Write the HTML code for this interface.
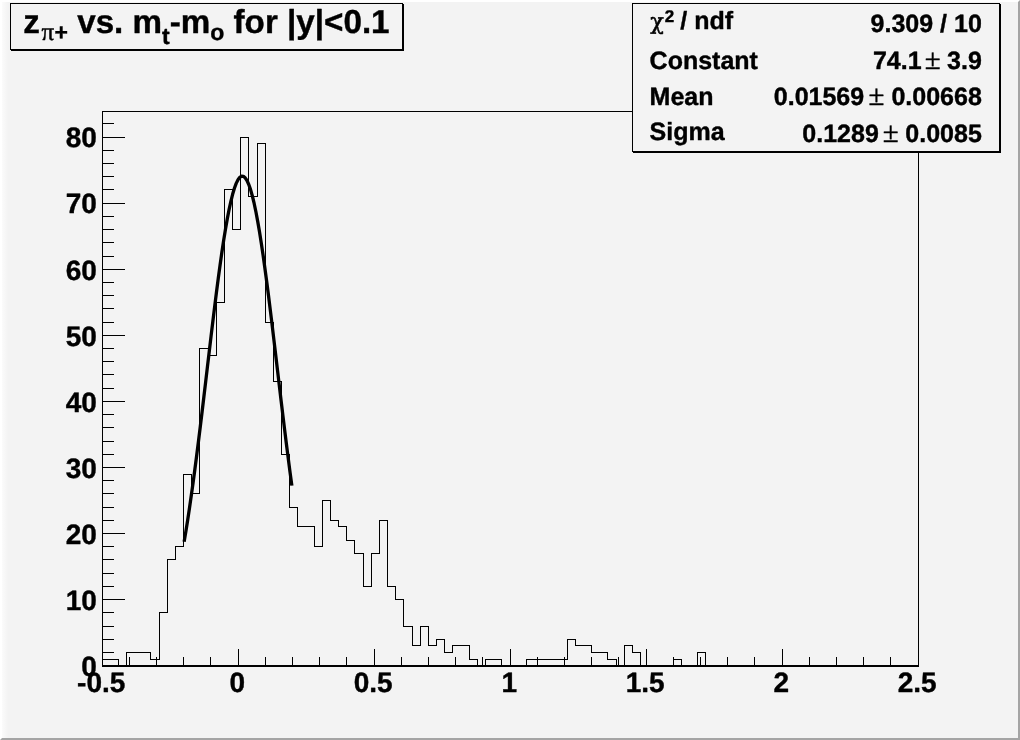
<!DOCTYPE html>
<html><head><meta charset="utf-8"><title>z pi+ vs. mt-mo for |y|&lt;0.1</title>
<style>
html,body{margin:0;padding:0;background:#f3f3f3;}
body{width:1020px;height:740px;overflow:hidden;}
svg{display:block;}
text{font-family:"Liberation Sans",sans-serif;font-weight:bold;fill:#000;stroke:#000;stroke-width:0.4px;stroke-linejoin:round;text-rendering:geometricPrecision;}
.chi{font-family:"DejaVu Serif","Liberation Serif",serif;font-weight:normal;stroke-width:0.5px;}
.sym{font-family:"Liberation Serif","DejaVu Serif",serif;font-weight:normal;stroke-width:0.45px;}
</style></head><body>
<svg width="1020" height="740" viewBox="0 0 1020 740">
<rect x="0" y="0" width="1020" height="740" fill="#f3f3f3"/>
<!-- bevel border -->
<rect x="0" y="0" width="1020" height="2" fill="#ffffff"/>
<rect x="0" y="0" width="2" height="740" fill="#ffffff"/>
<polygon points="1020,0 1020,740 0,740 2,738 1018,738 1018,2" fill="#a4a4a4"/>
<defs><linearGradient id="lg" x1="0" x2="1" y1="0" y2="0"><stop offset="0" stop-color="#fff" stop-opacity="0.7"/><stop offset="1" stop-color="#fff" stop-opacity="0"/></linearGradient></defs>
<rect x="2" y="2" width="6" height="736" fill="url(#lg)"/>
<!-- frame -->
<g shape-rendering="crispEdges" fill="none" stroke="#000" stroke-width="1">
<rect x="102.5" y="111.5" width="816" height="554"/>
<line x1="102" y1="666" x2="919" y2="666" stroke-width="2"/>
<path d="M102.5 666v-17M129.5 666v-9M156.5 666v-9M183.5 666v-9M210.5 666v-9M238.5 666v-17M265.5 666v-9M292.5 666v-9M319.5 666v-9M346.5 666v-9M374.5 666v-17M401.5 666v-9M428.5 666v-9M455.5 666v-9M482.5 666v-9M510.5 666v-17M537.5 666v-9M564.5 666v-9M591.5 666v-9M618.5 666v-9M646.5 666v-17M673.5 666v-9M700.5 666v-9M727.5 666v-9M754.5 666v-9M782.5 666v-17M809.5 666v-9M836.5 666v-9M863.5 666v-9M890.5 666v-9M918.5 666v-17M102 665.5h23M102 652.5h12M102 639.5h12M102 626.5h12M102 612.5h12M102 599.5h23M102 586.5h12M102 573.5h12M102 559.5h12M102 546.5h12M102 533.5h23M102 520.5h12M102 507.5h12M102 493.5h12M102 480.5h12M102 467.5h23M102 454.5h12M102 441.5h12M102 427.5h12M102 414.5h12M102 401.5h23M102 388.5h12M102 374.5h12M102 361.5h12M102 348.5h12M102 335.5h23M102 322.5h12M102 308.5h12M102 295.5h12M102 282.5h12M102 269.5h23M102 256.5h12M102 242.5h12M102 229.5h12M102 216.5h12M102 203.5h23M102 189.5h12M102 176.5h12M102 163.5h12M102 150.5h12M102 137.5h23M102 123.5h12"/>
<path d="M102.5 665.5V659.5H110.5V659.5H118.5V665.5H126.5V652.5H134.5V652.5H142.5V652.5H150.5V659.5H159.5V612.5H167.5V559.5H175.5V546.5H183.5V474.5H191.5V493.5H199.5V348.5H208.5V355.5H216.5V302.5H224.5V189.5H232.5V229.5H240.5V137.5H248.5V196.5H257.5V143.5H265.5V322.5H273.5V381.5H281.5V454.5H289.5V507.5H297.5V526.5H306.5V526.5H314.5V546.5H322.5V500.5H330.5V520.5H338.5V526.5H346.5V540.5H354.5V553.5H363.5V586.5H371.5V553.5H379.5V520.5H387.5V586.5H395.5V599.5H403.5V626.5H412.5V645.5H420.5V626.5H428.5V645.5H436.5V639.5H444.5V652.5H452.5V645.5H461.5V645.5H469.5V659.5H477.5V665.5H485.5V659.5H493.5V659.5H501.5V665.5H510.5V665.5H518.5V665.5H526.5V659.5H534.5V659.5H542.5V659.5H550.5V659.5H558.5V659.5H567.5V639.5H575.5V645.5H583.5V645.5H591.5V652.5H599.5V652.5H607.5V659.5H616.5V665.5H624.5V645.5H632.5V652.5H640.5V665.5H648.5V665.5H656.5V665.5H665.5V665.5H673.5V659.5H681.5V665.5H689.5V665.5H697.5V652.5H705.5V665.5H714.5V665.5H722.5V665.5H730.5V665.5H738.5V665.5H746.5V665.5H754.5V665.5H762.5V665.5H771.5V665.5H779.5V665.5H787.5V665.5H795.5V665.5H803.5V665.5H811.5V665.5H820.5V665.5H828.5V665.5H836.5V665.5H844.5V665.5H852.5V665.5H860.5V665.5H869.5V665.5H877.5V665.5H885.5V665.5H893.5V665.5H901.5V665.5H909.5V665.5H918.5V665.5"/>
</g>
<path d="M184.14 541.81L185.94 531.01L187.73 519.65L189.53 507.75L191.32 495.33L193.12 482.41L194.92 469.03L196.71 455.23L198.51 441.04L200.30 426.53L202.10 411.75L203.89 396.76L205.69 381.63L207.48 366.43L209.28 351.25L211.07 336.16L212.87 321.25L214.66 306.61L216.46 292.32L218.25 278.49L220.05 265.19L221.84 252.53L223.64 240.58L225.43 229.42L227.23 219.15L229.02 209.83L230.82 201.54L232.61 194.33L234.41 188.26L236.20 183.39L238.00 179.73L239.80 177.34L241.59 176.21L243.39 176.37L245.18 177.81L246.98 180.52L248.77 184.47L250.57 189.65L252.36 196.00L254.16 203.48L255.95 212.03L257.75 221.59L259.54 232.08L261.34 243.44L263.13 255.57L264.93 268.40L266.72 281.84L268.52 295.79L270.31 310.17L272.11 324.89L273.90 339.85L275.70 354.97L277.49 370.16L279.29 385.35L281.08 400.45L282.88 415.40L284.68 430.12L286.47 444.56L288.27 458.65L290.06 472.36L291.86 485.63" fill="none" stroke="#000" stroke-width="3.3" stroke-linejoin="round"/>
<g font-size="28"><text x="101.2" y="692.2" text-anchor="middle">-0.5</text><text x="237.2" y="692.2" text-anchor="middle">0</text><text x="373.2" y="692.2" text-anchor="middle">0.5</text><text x="509.2" y="692.2" text-anchor="middle">1</text><text x="645.2" y="692.2" text-anchor="middle">1.5</text><text x="781.2" y="692.2" text-anchor="middle">2</text><text x="917.2" y="692.2" text-anchor="middle">2.5</text><text x="96.8" y="675.9" text-anchor="end">0</text><text x="96.8" y="609.8" text-anchor="end">10</text><text x="96.8" y="543.8" text-anchor="end">20</text><text x="96.8" y="477.7" text-anchor="end">30</text><text x="96.8" y="411.6" text-anchor="end">40</text><text x="96.8" y="345.6" text-anchor="end">50</text><text x="96.8" y="279.5" text-anchor="end">60</text><text x="96.8" y="213.4" text-anchor="end">70</text><text x="96.8" y="147.3" text-anchor="end">80</text></g>
<!-- title box -->
<g shape-rendering="crispEdges">
<rect x="11" y="4" width="393" height="47" fill="#000"/>
<rect x="10.5" y="3.5" width="392" height="46" fill="#f3f3f3" stroke="#000" stroke-width="1"/>
</g>
<text x="23.3" y="32.8" font-size="33.2">z<tspan class="sym" font-size="25" dy="7.6" dx="1.5">π</tspan><tspan font-size="23" dx="0.5">+</tspan><tspan dy="-7.6"> vs. m</tspan><tspan font-size="23" dy="11">t</tspan><tspan dy="-11">-m</tspan><tspan font-size="23" dy="7.4">o</tspan><tspan dy="-7.4"> for |y|&lt;0.1</tspan></text>
<!-- stats box -->
<g shape-rendering="crispEdges">
<rect x="633" y="4" width="368" height="149" fill="#000"/>
<rect x="632.5" y="3.5" width="367" height="148" fill="#f3f3f3" stroke="#000" stroke-width="1"/>
</g>
<g font-size="25">
<text x="650.2" y="28.7" font-family="DejaVu Serif, serif" font-weight="normal" font-size="22.5" class="chi">χ</text><text x="664.8" y="21.9" font-size="17">2</text><text x="680.3" y="28.7">/ ndf</text>
<text x="649.6" y="68.7">Constant</text>
<text x="649.6" y="104.7">Mean</text>
<text x="649.6" y="139.7">Sigma</text>
<text x="981.8" y="31.8" text-anchor="end">9.309 / 10</text>
<text x="921.6" y="68.7" text-anchor="end">74.1</text><text class="sym" font-size="29" x="932.7" y="68.7" text-anchor="middle">±</text><text x="981.8" y="68.7" text-anchor="end">3.9</text>
<text x="864.2" y="105.2" text-anchor="end">0.01569</text><text class="sym" font-size="29" x="876.4" y="105.2" text-anchor="middle">±</text><text x="981.8" y="105.2" text-anchor="end">0.00668</text>
<text x="878.8" y="141.7" text-anchor="end">0.1289</text><text class="sym" font-size="29" x="890.6" y="141.7" text-anchor="middle">±</text><text x="981.8" y="141.7" text-anchor="end">0.0085</text>
</g>
</svg>
</body></html>
